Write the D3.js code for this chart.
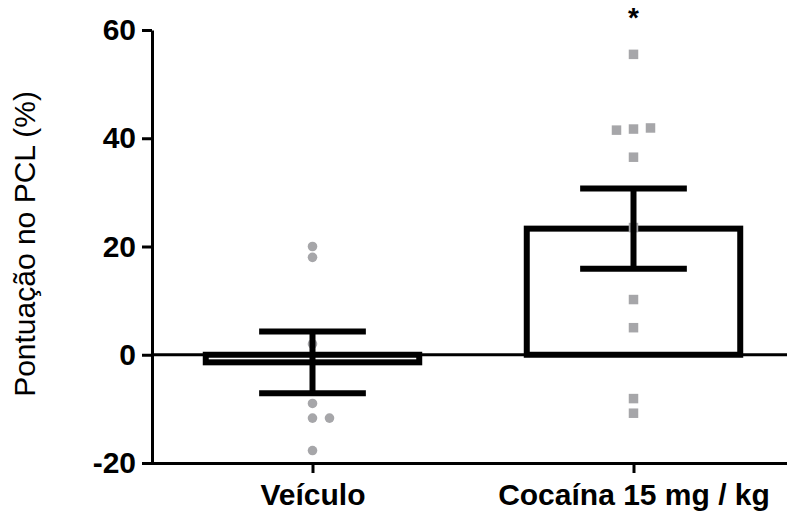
<!DOCTYPE html>
<html>
<head>
<meta charset="utf-8">
<script src="https://cdn.jsdelivr.net/npm/d3@7"></script>
<style>
  html, body { margin: 0; padding: 0; background: #fff; }
  svg { display: block; }
</style>
</head>
<body>
<script>
// ---- data ----
const categories = ["Veículo", "Cocaína 15 mg / kg"];
const means = [-1.4, 23.3];
const sems = [5.7, 7.4];
const veiculoPoints = [20.0, 18.0, 2.0, -9.0, -11.7, -11.7, -17.7];
const veiculoSlots  = [0, 0, 0, 0, 0, 1, 0];
const cocainaPoints = [55.5, 41.5, 41.7, 41.9, 36.5, 23.5, 10.2, 5.0, -8.1, -10.8];
const cocainaSlots  = [0, -1, 0, 1, 0, 0, 0, 0, 0, 0];
const yTicks = [-20, 0, 20, 40, 60];
const significance = ["", "*"];
const yLabel = "Pontuação no PCL (%)";

const W = 787, H = 517;
const svg = d3.select("body").append("svg").attr("width", W).attr("height", H);

const y = d3.scaleLinear().domain([-20, 60]).range([463, 30]);
const x = d3.scalePoint().domain(categories).range([152, 794]).padding(0.5);
const step = x.step();
const barW = step * 0.665;
const capW = barW / 2;
const jitter = 17;
const FONT = "Liberation Sans, Arial, sans-serif";

// zero line
svg.append("line")
  .attr("x1", 152).attr("x2", W)
  .attr("y1", y(0)).attr("y2", y(0))
  .attr("stroke", "#000").attr("stroke-width", 3);

// bars
svg.selectAll("rect.bar").data(categories).join("rect")
  .attr("class", "bar")
  .attr("x", d => x(d) - barW / 2)
  .attr("width", barW)
  .attr("y", (d, i) => Math.min(y(means[i]), y(0)))
  .attr("height", (d, i) => Math.abs(y(means[i]) - y(0)))
  .attr("fill", "none")
  .attr("stroke", "#000").attr("stroke-width", 6);

// points
const grey = "#a6a6a9";
svg.selectAll("circle.pt").data(veiculoPoints).join("circle")
  .attr("class", "pt")
  .attr("cx", (d, i) => x(categories[0]) + veiculoSlots[i] * jitter)
  .attr("cy", d => y(d))
  .attr("r", 4.8)
  .attr("fill", grey);

const sq = 9.5;
svg.selectAll("rect.pt").data(cocainaPoints).join("rect")
  .attr("class", "pt")
  .attr("x", (d, i) => x(categories[1]) + cocainaSlots[i] * jitter - sq / 2)
  .attr("y", d => y(d) - sq / 2)
  .attr("width", sq).attr("height", sq)
  .attr("fill", grey);

// error bars
const eb = svg.append("g").attr("stroke", "#000").attr("stroke-width", 6).attr("fill", "none");
categories.forEach((c, i) => {
  const cx = x(c);
  const top = y(means[i] + sems[i]), bot = y(means[i] - sems[i]);
  eb.append("line").attr("x1", cx).attr("x2", cx).attr("y1", top).attr("y2", bot);
  eb.append("line").attr("x1", cx - capW / 2).attr("x2", cx + capW / 2).attr("y1", top).attr("y2", top);
  eb.append("line").attr("x1", cx - capW / 2).attr("x2", cx + capW / 2).attr("y1", bot).attr("y2", bot);
});

// significance
svg.selectAll("text.sig").data(significance).join("text")
  .attr("class", "sig")
  .attr("x", (d, i) => x(categories[i]))
  .attr("y", 27)
  .attr("text-anchor", "middle")
  .attr("font-family", FONT)
  .attr("font-weight", "bold")
  .attr("font-size", 28)
  .text(d => d);

// y axis
const yAxis = svg.append("g")
  .attr("transform", "translate(152,0)")
  .call(d3.axisLeft(y).tickValues(yTicks).tickFormat(d => String(d))
    .tickSize(10).tickSizeOuter(0).tickPadding(6));
yAxis.selectAll("path, line").attr("stroke", "#000").attr("stroke-width", 3);
yAxis.selectAll("text")
  .attr("font-family", FONT)
  .attr("font-weight", "bold")
  .attr("font-size", 30)
  .attr("fill", "#000");

// x axis
const xAxis = svg.append("g")
  .attr("transform", `translate(0,${y(-20)})`)
  .call(d3.axisBottom(x).tickSize(10).tickSizeOuter(0).tickPadding(11));
xAxis.select("path.domain").attr("d", `M150.5,0.5H${W}`);
xAxis.selectAll("path, line").attr("stroke", "#000").attr("stroke-width", 3);
xAxis.selectAll("text")
  .attr("font-family", FONT)
  .attr("font-weight", "bold")
  .attr("font-size", 30)
  .attr("fill", "#000");

// y label
svg.append("text")
  .attr("transform", `translate(35,244) rotate(-90)`)
  .attr("text-anchor", "middle")
  .attr("font-family", FONT)
  .attr("font-size", 30)
  .attr("fill", "#000")
  .text(yLabel);
</script>
</body>
</html>
